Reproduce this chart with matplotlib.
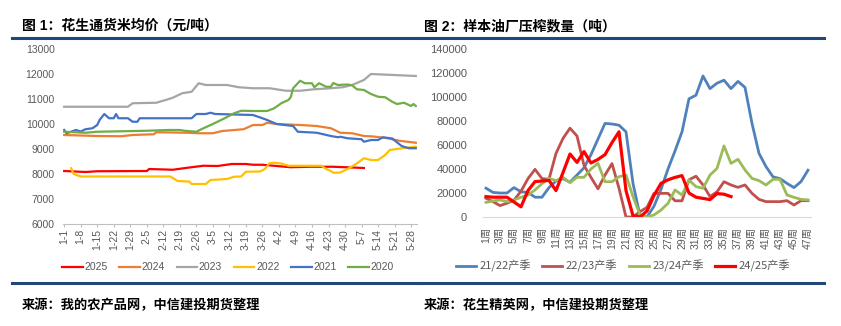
import matplotlib
matplotlib.use("Agg")
import matplotlib.pyplot as plt
from matplotlib.lines import Line2D

plt.rcParams['font.family'] = ['Liberation Sans', 'Noto Sans CJK SC', 'DejaVu Sans']

# ---- chart 1: peanut price, day index counted from Jan 1 ----
date_labels = ['1-1', '1-8', '1-15', '1-22', '1-29', '2-5', '2-12', '2-19', '2-26', '3-5', '3-12',
               '3-19', '3-26', '4-2', '4-9', '4-16', '4-23', '4-30', '5-7', '5-14', '5-21', '5-28']

d2025 = [0, 9, 14, 35, 36, 46, 53, 59, 65, 71, 77, 80, 84, 90, 96, 104, 114, 122, 127]
v2025 = [8120, 8080, 8110, 8120, 8200, 8170, 8260, 8330, 8320, 8400, 8400, 8370, 8370, 8320, 8270,
         8290, 8290, 8260, 8240]

d2024 = [0, 14, 24, 29, 38, 39, 52, 57, 63, 67, 76, 80, 84, 86, 90, 100, 107, 113, 117, 122, 127,
         131, 137, 142, 149]
v2024 = [9560, 9520, 9510, 9560, 9590, 9670, 9650, 9630, 9630, 9720, 9790, 9960, 9960, 10050, 10000,
         9960, 9920, 9830, 9650, 9630, 9520, 9500, 9430, 9330, 9250]

d2023 = [0, 27, 29, 39, 43, 46, 50, 54, 57, 60, 69, 74, 80, 87, 94, 100, 106, 113, 118, 122, 127,
         130, 149]
v2023 = [10690, 10690, 10830, 10850, 10960, 11050, 11230, 11290, 11630, 11560, 11560, 11470, 11430,
         11430, 11330, 11330, 11390, 11430, 11470, 11560, 11760, 12000, 11920]

d2022 = [3, 4, 7, 45, 48, 53, 54, 60, 62, 69, 72, 75, 77, 83, 85, 87, 89, 92, 95, 109, 111, 113, 114,
         117, 120, 123, 126, 127, 130, 133, 136, 138, 143, 149]
v2022 = [8230, 8000, 7900, 7900, 7720, 7700, 7600, 7600, 7760, 7800, 7890, 7900, 8090, 8100, 8200,
         8430, 8450, 8420, 8330, 8330, 8200, 8120, 8050, 8060, 8200, 8360, 8560, 8630, 8560, 8560,
         8760, 8960, 9030, 9090]

d2021 = [0, 1, 5, 7, 9, 12, 14, 15, 17, 19, 21, 22, 23, 27, 29, 31, 32, 54, 56, 60, 62, 64, 80, 84,
         86, 90, 97, 99, 107, 113, 116, 117, 120, 126, 127, 130, 133, 135, 139, 143, 146, 149]
v2021 = [9760, 9630, 9760, 9700, 9790, 9830, 9960, 10160, 10400, 10230, 10230, 10400, 10230, 10230,
         10090, 10090, 10230, 10230, 10400, 10400, 10450, 10400, 10360, 10230, 10160, 10000, 9920,
         9690, 9650, 9520, 9470, 9490, 9430, 9390, 9290, 9360, 9360, 9470, 9420, 9120, 9030, 9030]

d2020 = [0, 9, 14, 25, 35, 44, 49, 51, 56, 59, 63, 68, 72, 75, 80, 86, 89, 92, 95, 96, 97, 99, 100,
         102, 105, 106, 108, 111, 113, 114, 116, 120, 122, 124, 127, 130, 133, 136, 139, 141, 144,
         147, 148, 149]
v2020 = [9690, 9650, 9690, 9710, 9730, 9760, 9760, 9730, 9690, 9830, 10000, 10230, 10430, 10530,
         10520, 10520, 10630, 10830, 10960, 11070, 11430, 11630, 11730, 11630, 11630, 11470, 11630,
         11490, 11490, 11640, 11560, 11580, 11550, 11390, 11360, 11200, 11090, 11070, 10890, 10800,
         10850, 10720, 10800, 10720]

# ---- chart 2: weekly crushing volume (tons), weeks 1..47 ----
weeks = list(range(1, 48))
s2122 = [24000, 20500, 20000, 20000, 24500, 21000, 20500, 16500, 16500, 24500, 30000, 32000, 29000,
         35000, 41000, 52000, 65000, 78000, 77500, 76500, 71000, 28000, 1000, 0, 9000, 23000, 40000,
         55000, 71000, 98500, 101500, 117500, 107000, 111500, 114000, 107000, 113000, 108000, 78000,
         53000, 42000, 33500, 32000, 28000, 24500, 29500, 39000]
s2223 = [15600, 12800, 9500, 11500, 14000, 21500, 32000, 39700, 32000, 31500, 53000, 65500, 74000,
         67500, 43000, 33000, 23500, 35000, 44500, 24000, 0, 0, 4500, 8000, 19700, 19700, 19700, 13500,
         13500, 31000, 34000, 26700, 17000, 21000, 29400, 26700, 24700, 26700, 19700, 14700, 12800,
         12800, 12800, 13600, 10000, 13600, 13600]
s2324 = [12200, 13300, 14200, 12800, 14200, 16400, 18300, 22500, 27800, 32200, 30300, 33000, 28600,
         33100, 33100, 40000, 44700, 29400, 29400, 33600, 35000, 17000, 1700, 0, 1700, 5800, 11400,
         22500, 18300, 30800, 25300, 23900, 35000, 40500, 59200, 44700, 48100, 39200, 32200, 30300,
         26700, 31400, 31400, 18300, 16400, 14700, 14200]
s2425 = [17000, 16500, 16500, 16500, 12500, 8500, 22000, 29500, 30000, 30500, 22000, 37000, 52500,
         45500, 54500, 45000, 48000, 52000, 62000, 71000, 22000, 1000, 0, 5000, 18000, 28000, 31000,
         33000, 34500, 20000, 16500, 15500, 14500, 19500, 19000, 17000]

W, H = 841, 326
fig = plt.figure(figsize=(W / 100, H / 100), dpi=100)
gray_txt = '#595959'
navy = '#24477A'

# titles, rules, sources
fig.text(22 / W, 1 - 26 / H, '图 1：花生通货米均价（元/吨）', fontsize=10, fontweight='bold',
         va='center', ha='left')
fig.text(424 / W, 1 - 26 / H, '图 2：样本油厂压榨数量（吨）', fontsize=10, fontweight='bold',
         va='center', ha='left')
for x0, x1 in [(12, 420), (422, 824)]:
    for yy in [37.5, 282.5]:
        fig.add_artist(Line2D([x0 / W, x1 / W], [1 - yy / H, 1 - yy / H], transform=fig.transFigure,
                              color=navy, lw=2.2))
fig.text(22 / W, 1 - 305 / H, '来源：我的农产品网，中信建投期货整理', fontsize=9.5,
         fontweight='bold', va='center', ha='left')
fig.text(424 / W, 1 - 305 / H, '来源：花生精英网，中信建投期货整理', fontsize=9.5,
         fontweight='bold', va='center', ha='left')

# ---- left chart ----
axL = fig.add_axes([63 / W, 102 / H, 354 / W, 175 / H])
series_left = [('2025', d2025, v2025, '#FF0000'),
               ('2024', d2024, v2024, '#ED7D31'),
               ('2023', d2023, v2023, '#A5A5A5'),
               ('2022', d2022, v2022, '#FFC000'),
               ('2021', d2021, v2021, '#4472C4'),
               ('2020', d2020, v2020, '#70AD47')]
for name, dd, vv, c in series_left:
    axL.plot(dd, vv, color=c, lw=1.6, label=name, solid_joinstyle='round')
axL.set_xlim(-0.5, 149.5)
axL.set_ylim(6000, 13000)
axL.set_yticks(range(6000, 13001, 1000))
axL.set_xticks(range(0, 7 * len(date_labels), 7))
axL.set_xticklabels(date_labels, rotation=90, va='top', ha='center')
for s in ['top', 'right', 'left']:
    axL.spines[s].set_visible(False)
axL.spines['bottom'].set_color('#BFBFBF')
axL.tick_params(axis='y', length=0, pad=6, labelsize=7.5, labelcolor=gray_txt)
axL.tick_params(axis='x', length=2.5, color='#BFBFBF', pad=1, labelsize=7.5, labelcolor=gray_txt)
axL.patch.set_alpha(0)
fig.legend(*axL.get_legend_handles_labels(), loc='center', bbox_to_anchor=(228 / W, 1 - 267.5 / H),
           ncol=6, frameon=False, fontsize=7.5, handlelength=2.0, handletextpad=0.15,
           columnspacing=1.1, labelcolor=gray_txt)

# ---- right chart ----
axR = fig.add_axes([482.5 / W, 109 / H, 329 / W, 168 / H])
series_right = [('21/22产季', s2122, '#4F81BD', 2.0),
                ('22/23产季', s2223, '#C0504D', 2.0),
                ('23/24产季', s2324, '#9BBB59', 2.0),
                ('24/25产季', s2425, '#FF0000', 2.3)]
for name, vals, c, lw in series_right:
    axR.plot(weeks[:len(vals)], vals, color=c, lw=lw, label=name, solid_joinstyle='round')
axR.set_xlim(0.5, 47.5)
axR.set_ylim(0, 140000)
axR.set_yticks(range(0, 140001, 20000))
axR.set_xticks(weeks[::2])
axR.set_xticklabels([f'{w}周' for w in weeks[::2]], rotation=90, va='top', ha='center')
for s in ['top', 'right', 'left']:
    axR.spines[s].set_visible(False)
axR.spines['bottom'].set_color('#D9D9D9')
axR.tick_params(axis='y', length=0, pad=11, labelsize=8, labelcolor=gray_txt)
axR.tick_params(axis='x', length=0, pad=7, labelsize=7.5, labelcolor=gray_txt)
axR.patch.set_alpha(0)
fig.legend(*axR.get_legend_handles_labels(), loc='center', bbox_to_anchor=(623 / W, 1 - 266 / H),
           ncol=4, frameon=False, prop={'family': ['Noto Sans CJK SC'], 'size': 8},
           handlelength=1.8, handletextpad=0.35, columnspacing=1.0, labelcolor=gray_txt)

fig.savefig('out.png', dpi=100)
